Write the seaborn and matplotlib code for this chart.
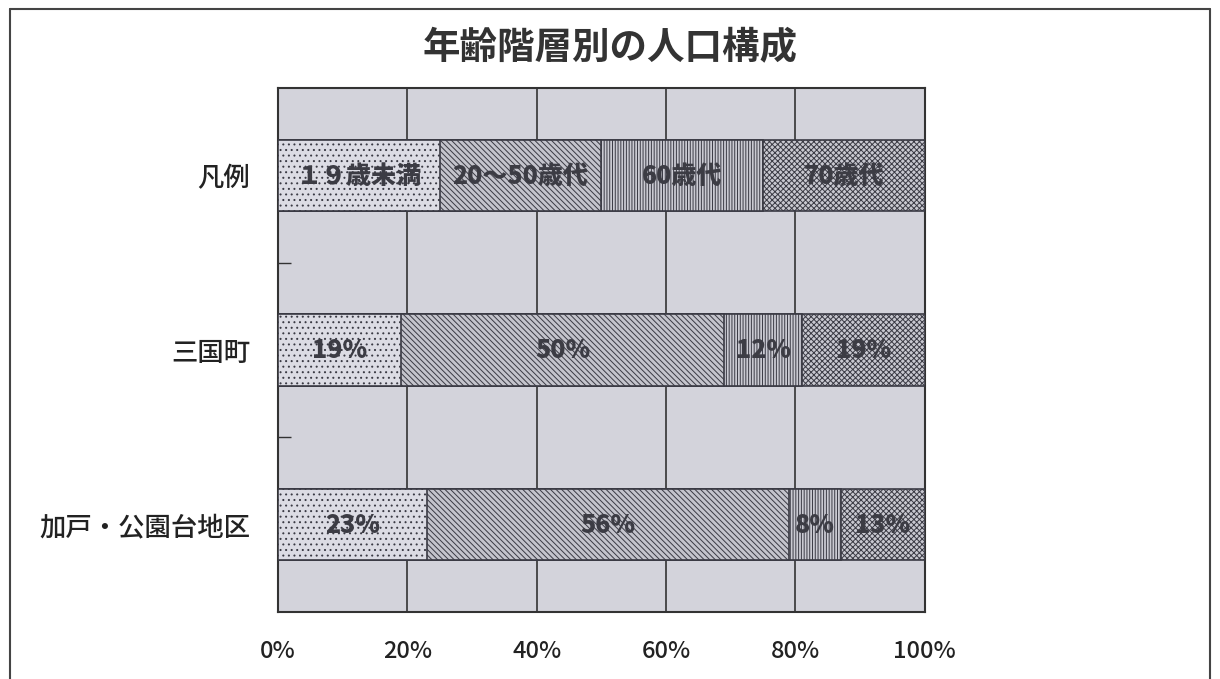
import numpy as np
import pandas as pd
import matplotlib
matplotlib.use("Agg")
import matplotlib.pyplot as plt
import seaborn as sns

# data
areas = ["凡例", "三国町", "加戸・公園台地区"]
groups = ["１９歳未満", "20～50歳代", "60歳代", "70歳代"]
under19 = [25, 19, 23]
age20_50 = [25, 50, 56]
age60 = [25, 12, 8]
age70 = [25, 19, 13]
xticks = [0, 20, 40, 60, 80, 100]
xticklabels = ["0%", "20%", "40%", "60%", "80%", "100%"]

sns.set_theme(style="white")
plt.rcParams["font.family"] = ["Noto Sans CJK JP", "DejaVu Sans"]
plt.rcParams["hatch.linewidth"] = 0.7
plt.rcParams["hatch.color"] = "#3a3a44"

df = pd.DataFrame({"area": areas, "g1": under19, "g2": age20_50,
                   "g3": age60, "g4": age70})
cols = ["g1", "g2", "g3", "g4"]
cum = df[cols].cumsum(axis=1)

fig = plt.figure(figsize=(12.2, 6.79), dpi=100)
ax = fig.add_axes([0.228, 0.099, 0.53, 0.771])
ax.set_facecolor("#d3d3db")

faces = ["#dcdce4", "#c4c4cc", "#cacad2", "#c8c8d0"]
hatches = ["...", "\\\\\\\\\\\\", "||||||", "xxxxxx"]

# stacked bars: draw cumulative totals from the back forward
for i in range(3, -1, -1):
    tmp = pd.DataFrame({"area": df["area"], "val": cum[cols[i]]})
    sns.barplot(data=tmp, x="val", y="area", orient="h", ax=ax,
                color=faces[i], width=0.41, hatch=hatches[i],
                edgecolor="#3a3a44", linewidth=1.2, saturation=1,
                zorder=3)

# segment labels
for r in range(len(areas)):
    for i, c in enumerate(cols):
        v = df.loc[r, c]
        mid = cum.loc[r, c] - v / 2
        txt = groups[i] if r == 0 else f"{v}%"
        ax.text(mid, r, txt, ha="center", va="center", fontsize=18,
                fontweight="heavy", color="#3c3c44", zorder=5)

ax.set_xlim(0, 100)
ax.set_ylim(2.5, -0.5)
ax.set_xticks(xticks)
ax.set_xticklabels(xticklabels, fontsize=17, fontweight="medium",
                   color="#222222")
ax.set_yticks(range(len(areas)))
ax.set_yticklabels(areas, fontsize=19, fontweight="medium",
                   color="#222222")
ax.set_yticks([0.5, 1.5], minor=True)
ax.tick_params(axis="y", which="major", length=0, pad=20)
ax.tick_params(axis="y", which="minor", direction="in", length=9,
               width=1, color="#333333", left=True)
ax.tick_params(axis="x", length=0, pad=20)
ax.set_xlabel("")
ax.set_ylabel("")
for x in xticks[1:-1]:
    ax.axvline(x, color="#333333", lw=1.2, zorder=1)
for s in ax.spines.values():
    s.set_color("#333333")
    s.set_linewidth(1.5)

fig.text(0.5, 0.93, "年齢階層別の人口構成", ha="center", va="center",
         fontsize=27, fontweight="bold", color="#333333")

# page frame
fig.add_artist(plt.Line2D([0.008, 0.992], [0.987, 0.987], color="#444444",
                          lw=1.5, transform=fig.transFigure))
fig.add_artist(plt.Line2D([0.008, 0.008], [0.0, 0.987], color="#444444",
                          lw=1.5, transform=fig.transFigure))
fig.add_artist(plt.Line2D([0.992, 0.992], [0.0, 0.987], color="#444444",
                          lw=1.5, transform=fig.transFigure))

fig.savefig("out.png", dpi=100)
